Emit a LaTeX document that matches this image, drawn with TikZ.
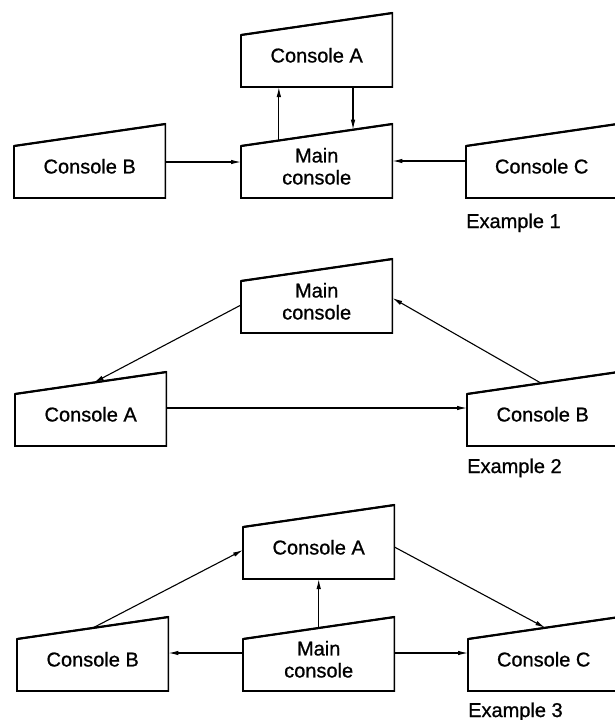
\documentclass[tikz,border=0pt]{standalone}
\usepackage{fontspec}
\setmainfont{Liberation Sans}
\newfontfamily\consolefont{Liberation Sans}[FakeBold=0.9]
\usetikzlibrary{arrows.meta,calc}

\tikzset{
  console/.style={draw=none, minimum width=151pt, minimum height=63pt,
    inner sep=0pt, align=center, font=\consolefont\fontsize{20}{22}\selectfont},
  consoleedge/.style={line width=1.6pt, line join=miter},
  consoletop/.style={line width=2.2pt},
  link/.style={line width=1.1pt, -{Latex[length=10pt,width=4.5pt]}},
  caption/.style={anchor=base west, inner sep=0pt,
    font=\consolefont\fontsize{20}{22}\selectfont},
}

% A console: a box whose top slopes up to the right.
% #1 name, #2 left x, #3 bottom y, #4 text
\newcommand{\consolebox}[4]{%
  \node[console, anchor=south west] (#1) at (#2,#3) {#4};
  \coordinate (#1-tl) at ($(#1.south west)+(0,-52)$);
  \coordinate (#1-tr) at ($(#1.south east)+(0,-74)$);
  \draw[consoleedge] (#1-tl) -- (#1.south west) -- (#1.south east) -- (#1-tr) -- cycle;
  \draw[consoletop] (#1-tl) -- (#1-tr);
}

\begin{document}
\begin{tikzpicture}[x=1pt,y=-1pt]
\useasboundingbox (0,0) rectangle (615,720);

% Example 1
\consolebox{a1}{241}{87}{Console A}
\consolebox{b1}{14}{198}{Console B}
\consolebox{m1}{241}{198}{Main\\console}
\consolebox{c1}{466}{198}{Console C}
\node[caption] (cap1) at (466,228) {Example 1};
\draw[link] ($(m1-tl)!0.25!(m1-tr)$) -- ($(a1.south west)!0.25!(a1.south east)$);
\draw[link] ($(a1.south west)!0.74!(a1.south east)$) -- ($(m1-tl)!0.74!(m1-tr)$);
\draw[link] ($(b1.south east)+(0,-36)$) -- ($(m1.south west)+(0,-36)$);
\draw[link] ($(c1.south west)+(0,-37)$) -- ($(m1.south east)+(0,-37)$);

% Example 2
\consolebox{m2}{241}{333}{Main\\console}
\consolebox{a2}{15}{446}{Console A}
\consolebox{b2}{467}{446}{Console B}
\node[caption] (cap2) at (467,473) {Example 2};
\draw[link] ($(m2.south west)+(0,-28)$) -- ($(a2-tl)!0.52!(a2-tr)$);
\draw[link] ($(b2-tl)!0.49!(b2-tr)$) -- ($(m2.south east)+(0,-35)$);
\draw[link] ($(a2.south east)+(0,-38)$) -- ($(b2.south west)+(0,-38)$);

% Example 3
\consolebox{a3}{243}{579}{Console A}
\consolebox{b3}{17}{691}{Console B}
\consolebox{m3}{243}{691}{Main\\console}
\consolebox{c3}{468}{691}{Console C}
\node[caption] (cap3) at (468,717) {Example 3};
\draw[link] ($(b3-tl)!0.5!(b3-tr)$) -- ($(a3.south west)+(0,-29)$);
\draw[link] ($(a3.south east)+(0,-32)$) -- ($(c3-tl)!0.51!(c3-tr)$);
\draw[link] ($(m3-tl)!0.5!(m3-tr)$) -- ($(a3.south west)!0.5!(a3.south east)$);
\draw[link] ($(m3.south west)+(0,-38)$) -- ($(b3.south east)+(0,-38)$);
\draw[link] ($(m3.south east)+(0,-38)$) -- ($(c3.south west)+(0,-38)$);
\end{tikzpicture}
\end{document}
